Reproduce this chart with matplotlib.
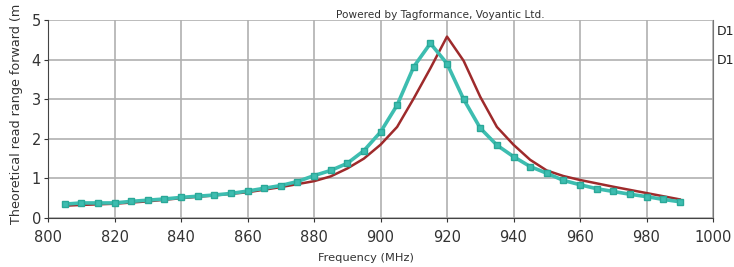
import matplotlib
matplotlib.use("Agg")
import matplotlib.pyplot as plt

# Measured (teal, with markers)
freq_meas = [805, 810, 815, 820, 825, 830, 835, 840, 845, 850, 855, 860, 865, 870,
             875, 880, 885, 890, 895, 900, 905, 910, 915, 920, 925, 930, 935, 940,
             945, 950, 955, 960, 965, 970, 975, 980, 985, 990]
range_meas = [0.35, 0.38, 0.38, 0.38, 0.42, 0.45, 0.48, 0.52, 0.55, 0.58, 0.62, 0.68,
              0.75, 0.82, 0.92, 1.07, 1.2, 1.38, 1.7, 2.17, 2.85, 3.82, 4.41, 3.9,
              3.0, 2.27, 1.84, 1.55, 1.3, 1.13, 0.95, 0.84, 0.74, 0.67, 0.6, 0.54,
              0.47, 0.41]

# Simulated (dark red line)
freq_sim = [805, 810, 820, 830, 840, 850, 860, 870, 880, 885, 890, 895, 900, 905,
            910, 915, 920, 925, 930, 935, 940, 945, 950, 955, 960, 970, 980, 990]
range_sim = [0.31, 0.33, 0.36, 0.42, 0.5, 0.57, 0.65, 0.78, 0.93, 1.05, 1.25, 1.5,
             1.85, 2.3, 3.02, 3.78, 4.58, 3.97, 3.06, 2.3, 1.85, 1.47, 1.2, 1.06,
             0.96, 0.79, 0.63, 0.47]

xticks = [800, 820, 840, 860, 880, 900, 920, 940, 960, 980, 1000]
yticks = [0, 1, 2, 3, 4, 5]

plt.rcParams['font.family'] = ['DejaVu Sans']
fig = plt.figure(figsize=(7.34, 2.67), dpi=100)
ax = fig.add_axes([48/734, 1-218/267, (713-48)/734, (218-20)/267])

ax.plot(freq_sim, range_sim, color='#9e2a2b', lw=1.8, zorder=3)
ax.plot(freq_meas, range_meas, color='#3dbdb0', lw=2.6, marker='s', ms=5,
        markeredgecolor='#2aa898', zorder=4)

ax.set_xlim(800, 1000)
ax.set_ylim(0, 5)
ax.set_xticks(xticks)
ax.set_yticks(yticks)
ax.grid(True, color='#b0b0b0', lw=1.2)
ax.set_axisbelow(True)
ax.spines['top'].set_visible(False)
ax.spines['left'].set_color('#444444')
ax.spines['bottom'].set_color('#444444')
ax.spines['right'].set_color('#777777')
ax.tick_params(axis='both', labelsize=10.5, colors='#333333', length=3)
ax.tick_params(axis='x', pad=6)
ax.tick_params(axis='y', pad=2)

fig.text(440/734, 1-15/267, 'Powered by Tagformance, Voyantic Ltd.', fontsize=7.6,
         ha='center', va='center', color='#333333')
fig.text(366/734, 1-258/267, 'Frequency (MHz)', fontsize=8.2, ha='center',
         va='center', color='#333333')
fig.text(17/734, 1-4/267, 'Theoretical read range forward (m', fontsize=9.2,
         rotation=90, ha='center', va='top', color='#333333')
fig.text(717/734, 1-31/267, 'D1', fontsize=9, ha='left', va='center', color='#222222')
fig.text(717/734, 1-60/267, 'D1', fontsize=9, ha='left', va='center', color='#222222')

fig.savefig('out.png', dpi=100, facecolor='white')
